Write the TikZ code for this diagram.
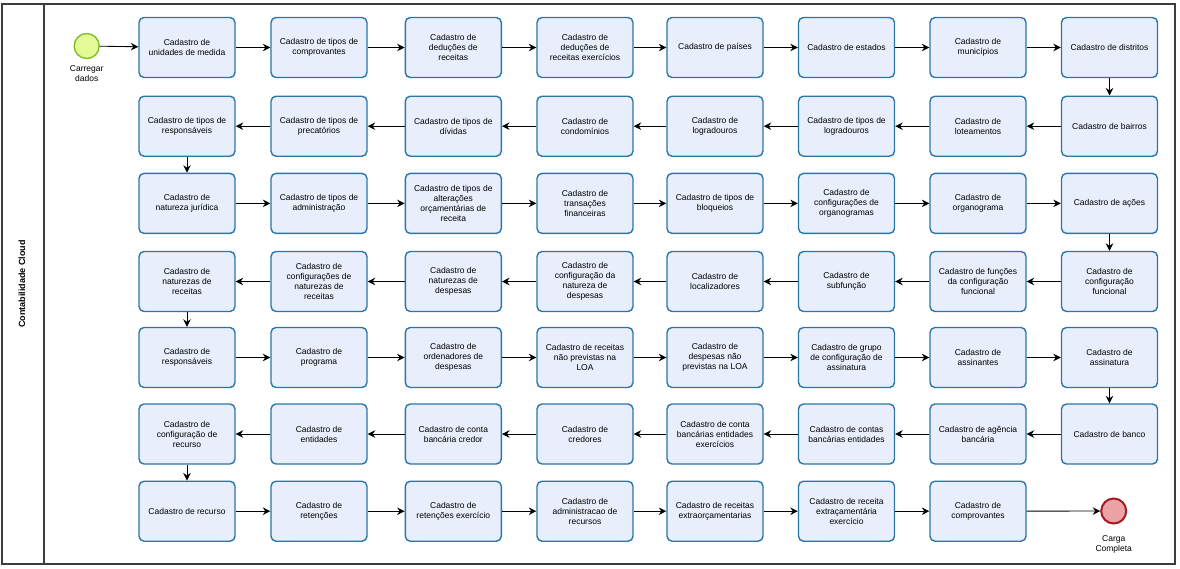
\documentclass[tikz,border=0pt]{standalone}
\usepackage{fontspec}
\setmainfont{Liberation Sans}
\usetikzlibrary{arrows.meta}
\definecolor{boxfill}{RGB}{232,238,252}
\definecolor{boxline}{RGB}{42,118,168}
\definecolor{startfill}{RGB}{228,250,150}
\definecolor{startline}{RGB}{128,190,40}
\definecolor{endfill}{RGB}{234,164,166}
\definecolor{endline}{RGB}{168,24,36}
\definecolor{lanegray}{RGB}{60,60,60}
\tikzset{
  task/.style={draw=boxline, fill=boxfill, line width=1.4pt, rounded corners=5pt,
    minimum width=96pt, minimum height=60pt, inner sep=1pt, align=center,
    font=\fontsize{8.5}{10}\selectfont},
  flow/.style={draw=black, line width=0.85pt, -{Stealth[length=7.5pt,width=7.5pt,inset=2.5pt]}},
  evlabel/.style={align=center, font=\fontsize{8.5}{10}\selectfont, inner sep=0pt},
  startev/.style={circle, draw=startline, fill=startfill, line width=1.4pt, minimum size=25pt, inner sep=0pt},
  endev/.style={circle, draw=endline, fill=endfill, line width=2pt, minimum size=25pt, inner sep=0pt}
}
\begin{document}
\begin{tikzpicture}[x=1pt,y=-1pt]
\useasboundingbox (0,0) rectangle (1180,568);
% lane
\draw[draw=lanegray, line width=1.1pt] (2,4) rectangle (1175,564);
\draw[draw=lanegray, line width=1.1pt] (44,4) -- (44,564);
\node[rotate=90, font=\fontsize{9}{10}\selectfont\bfseries] (lane) at (22,284) {Contabilidade Cloud};
% events
\node[startev] (start) at (86.7,46) {};
\node[evlabel] (startlbl) at (86.7,74) {Carregar\\dados};
\node[endev] (end) at (1113.7,511) {};
\node[evlabel] (endlbl) at (1113.7,544) {Carga\\Completa};
% row 1
\node[task] (r1c1) at (187,47.5) {Cadastro de\\unidades de medida};
\node[task] (r1c2) at (319,47.5) {Cadastro de tipos de\\comprovantes};
\node[task] (r1c3) at (453.3,47.5) {Cadastro de\\deduções de\\receitas};
\node[task] (r1c4) at (585,47.5) {Cadastro de\\deduções de\\receitas exercícios};
\node[task] (r1c5) at (715,47.5) {Cadastro de países};
\node[task] (r1c6) at (846.5,47.5) {Cadastro de estados};
\node[task] (r1c7) at (978,47.5) {Cadastro de\\municípios};
\node[task] (r1c8) at (1109.5,47.5) {Cadastro de distritos};
% row 2
\node[task] (r2c1) at (187,126.2) {Cadastro de tipos de\\responsáveis};
\node[task] (r2c2) at (319,126.2) {Cadastro de tipos de\\precatórios};
\node[task] (r2c3) at (453.3,126.2) {Cadastro de tipos de\\dívidas};
\node[task] (r2c4) at (585,126.2) {Cadastro de\\condomínios};
\node[task] (r2c5) at (715,126.2) {Cadastro de\\logradouros};
\node[task] (r2c6) at (846.5,126.2) {Cadastro de tipos de\\logradouros};
\node[task] (r2c7) at (978,126.2) {Cadastro de\\loteamentos};
\node[task] (r2c8) at (1109.5,126.2) {Cadastro de bairros};
% row 3
\node[task] (r3c1) at (187,203.4) {Cadastro de\\natureza jurídica};
\node[task] (r3c2) at (319,203.4) {Cadastro de tipos de\\administração};
\node[task] (r3c3) at (453.3,203.4) {Cadastro de tipos de\\alterações\\orçamentárias de\\receita};
\node[task] (r3c4) at (585,203.4) {Cadastro de\\transações\\financeiras};
\node[task] (r3c5) at (715,203.4) {Cadastro de tipos de\\bloqueios};
\node[task] (r3c6) at (846.5,203.4) {Cadastro de\\configurações de\\organogramas};
\node[task] (r3c7) at (978,203.4) {Cadastro de\\organograma};
\node[task] (r3c8) at (1109.5,203.4) {Cadastro de ações};
% row 4
\node[task] (r4c1) at (187,281.5) {Cadastro de\\naturezas de\\receitas};
\node[task] (r4c2) at (319,281.5) {Cadastro de\\configurações de\\naturezas de\\receitas};
\node[task] (r4c3) at (453.3,281.5) {Cadastro de\\naturezas de\\despesas};
\node[task] (r4c4) at (585,281.5) {Cadastro de\\configuração da\\natureza de\\despesas};
\node[task] (r4c5) at (715,281.5) {Cadastro de\\localizadores};
\node[task] (r4c6) at (846.5,281.5) {Cadastro de\\subfunção};
\node[task] (r4c7) at (978,281.5) {Cadastro de funções\\da configuração\\funcional};
\node[task] (r4c8) at (1109.5,281.5) {Cadastro de\\configuração\\funcional};
% row 5
\node[task] (r5c1) at (187,357.5) {Cadastro de\\responsáveis};
\node[task] (r5c2) at (319,357.5) {Cadastro de\\programa};
\node[task] (r5c3) at (453.3,357.5) {Cadastro de\\ordenadores de\\despesas};
\node[task] (r5c4) at (585,357.5) {Cadastro de receitas\\não previstas na\\LOA};
\node[task] (r5c5) at (715,357.5) {Cadastro de\\despesas não\\previstas na LOA};
\node[task] (r5c6) at (846.5,357.5) {Cadastro de grupo\\de configuração de\\assinatura};
\node[task] (r5c7) at (978,357.5) {Cadastro de\\assinantes};
\node[task] (r5c8) at (1109.5,357.5) {Cadastro de\\assinatura};
% row 6
\node[task] (r6c1) at (187,434) {Cadastro de\\configuração de\\recurso};
\node[task] (r6c2) at (319,434) {Cadastro de\\entidades};
\node[task] (r6c3) at (453.3,434) {Cadastro de conta\\bancária credor};
\node[task] (r6c4) at (585,434) {Cadastro de\\credores};
\node[task] (r6c5) at (715,434) {Cadastro de conta\\bancárias entidades\\exercícios};
\node[task] (r6c6) at (846.5,434) {Cadastro de contas\\bancárias entidades};
\node[task] (r6c7) at (978,434) {Cadastro de agência\\bancária};
\node[task] (r6c8) at (1109.5,434) {Cadastro de banco};
% row 7
\node[task] (r7c1) at (187,511.2) {Cadastro de recurso};
\node[task] (r7c2) at (319,511.2) {Cadastro de\\retenções};
\node[task] (r7c3) at (453.3,511.2) {Cadastro de\\retenções exercício};
\node[task] (r7c4) at (585,511.2) {Cadastro de\\administracao de\\recursos};
\node[task] (r7c5) at (715,511.2) {Cadastro de receitas\\extraorçamentarias};
\node[task] (r7c6) at (846.5,511.2) {Cadastro de receita\\extraçamentária\\exercício};
\node[task] (r7c7) at (978,511.2) {Cadastro de\\comprovantes};
% connectors
\draw[flow] (start) -- (r1c1);
\foreach \r in {1,3,5,7}{
  \foreach \a/\b in {1/2,2/3,3/4,4/5,5/6,6/7}{
    \draw[flow] (r\r c\a) -- (r\r c\b);
  }
}
\foreach \r in {1,3,5}{
  \draw[flow] (r\r c7) -- (r\r c8);
}
\foreach \r in {2,4,6}{
  \foreach \a/\b in {8/7,7/6,6/5,5/4,4/3,3/2,2/1}{
    \draw[flow] (r\r c\a) -- (r\r c\b);
  }
}
\draw[flow] (r1c8) -- (r2c8);
\draw[flow] (r2c1) -- (r3c1);
\draw[flow] (r3c8) -- (r4c8);
\draw[flow] (r4c1) -- (r5c1);
\draw[flow] (r5c8) -- (r6c8);
\draw[flow] (r6c1) -- (r7c1);
\draw[flow] (r7c7) -- (end);
\end{tikzpicture}
\end{document}
